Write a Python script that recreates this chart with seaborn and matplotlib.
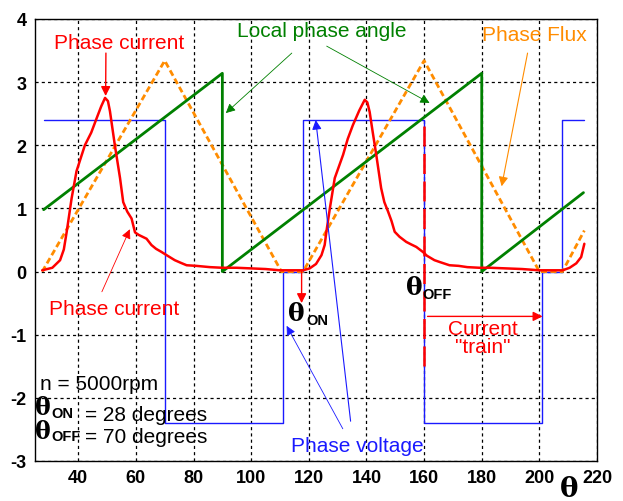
import matplotlib
matplotlib.use("Agg")
import matplotlib.pyplot as plt
import seaborn as sns

# Phase voltage (square wave)
theta_v = [28, 70, 70, 111, 111, 118, 118, 160, 160, 201, 201, 208, 208, 215.5]
volt = [2.4, 2.4, -2.4, -2.4, 0, 0, 2.4, 2.4, -2.4, -2.4, 0, 0, 2.4, 2.4]

# Local phase angle (sawtooth)
theta_a = [28, 90, 90, 180, 180, 215.3]
angle = [0.98, 3.14, 0.0, 3.14, 0.0, 1.25]

# Phase flux (triangle)
theta_f = [27.5, 70, 110.5, 118, 160, 200, 208, 215.6]
flux = [0.0, 3.34, 0.0, 0.0, 3.34, 0.0, 0.0, 0.65]

# Phase current
theta_i = [27.5, 31, 33.7, 35, 36, 37.7, 39.4, 42.3, 44.5, 46.4, 48, 49.3, 50.3, 51,
           52.7, 54.5, 55.6, 57, 58.5, 59.7, 61, 63.7, 65.4, 67, 68.9, 71, 73.5, 75.5,
           77.6, 81, 85.7, 90, 94.9, 100, 105, 109.9, 115, 118, 120.3, 122.5, 124.4,
           125.5, 126.1, 127.3, 129, 131.9, 133.5, 135.3, 137.5, 139.4, 140.3, 141.1,
           142.2, 143.4, 145.1, 146.2, 147.5, 148.7, 149.8, 151.5, 153.8, 155.5, 157.3,
           159.6, 161, 163.6, 165.5, 168.8, 172, 175, 179.2, 183, 188.5, 194, 200, 204,
           208.1, 210.5, 212.8, 214.5, 215.6]
current = [0.02, 0.06, 0.18, 0.35, 0.63, 1.16, 1.59, 2.0, 2.2, 2.43, 2.62, 2.75, 2.7, 2.54,
           2.0, 1.48, 1.1, 0.95, 0.84, 0.62, 0.58, 0.52, 0.42, 0.36, 0.31, 0.25, 0.18, 0.14,
           0.10, 0.09, 0.07, 0.06, 0.06, 0.05, 0.04, 0.02, 0.02, 0.02, 0.05, 0.12, 0.26,
           0.42, 0.63, 1.0, 1.48, 1.85, 2.1, 2.32, 2.55, 2.72, 2.68, 2.53,
           2.2, 1.85, 1.32, 1.1, 0.95, 0.8, 0.63, 0.55, 0.47, 0.43, 0.39,
           0.31, 0.25, 0.18, 0.15, 0.10, 0.09, 0.07, 0.06, 0.06, 0.05, 0.04, 0.02, 0.02,
           0.02, 0.06, 0.13, 0.23, 0.44]

# theta_off marker line
theta_off_line = [160, 160]
off_line_y = [2.3, -1.55]

xticks = [40, 60, 80, 100, 120, 140, 160, 180, 200, 220]
yticks = [-3, -2, -1, 0, 1, 2, 3, 4]

RED = "#ff0000"
GREEN = "#008000"
ORANGE = "#ff8c00"
BLUE = "#1a1aff"

sns.set_theme(style="white")
plt.rcParams['font.family'] = ['Liberation Sans', 'DejaVu Sans']
plt.rcParams['text.color'] = 'black'
plt.rcParams['xtick.color'] = 'black'
plt.rcParams['ytick.color'] = 'black'
plt.rcParams['axes.unicode_minus'] = False

fig = plt.figure(figsize=(6.23, 5.02), dpi=100)
ax = fig.add_axes([0.0562, 0.0797, 0.9021, 0.8805])

sns.lineplot(x=theta_v, y=volt, sort=False, estimator=None, color=BLUE, lw=1.0, ax=ax)
sns.lineplot(x=theta_f, y=flux, sort=False, estimator=None, color=ORANGE, lw=2.0,
             linestyle=(0, (2.2, 1.2)), ax=ax)
sns.lineplot(x=theta_a, y=angle, sort=False, estimator=None, color=GREEN, lw=2.0, ax=ax)
sns.lineplot(x=theta_i, y=current, sort=False, estimator=None, color=RED, lw=1.8, ax=ax)
ax.plot(theta_off_line, off_line_y, color=RED, lw=1.8, linestyle=(0, (8, 3)))

ax.set_xlim(25, 220)
ax.set_ylim(-3, 4)
ax.set_xticks(xticks)
ax.set_yticks(yticks)
ax.grid(True, color="black", linestyle=(0, (2.5, 2.5)), lw=0.9)
ax.tick_params(length=0, labelsize=13, pad=6, colors="black")
for lab in ax.get_xticklabels() + ax.get_yticklabels():
    lab.set_fontweight("bold")
for s in ax.spines.values():
    s.set_color("black")
    s.set_linewidth(1.0)
ax.set_xlabel("")
ax.set_ylabel("")

fs = 15
arr = lambda c, lw=0.8: dict(arrowstyle="-|>", color=c, lw=lw, mutation_scale=14, shrinkA=0, shrinkB=0)

# Phase current labels
ax.text(54.2, 3.62, "Phase current", color=RED, fontsize=fs, ha="center", va="center")
ax.annotate("", xy=(49.5, 2.78), xytext=(49.6, 3.46), arrowprops=arr(RED, 1.0))
ax.text(52.4, -0.59, "Phase current", color=RED, fontsize=fs, ha="center", va="center")
ax.annotate("", xy=(57.9, 0.67), xytext=(48.2, -0.32), arrowprops=arr(RED, 0.6))

# Local phase angle
ax.text(124.5, 3.81, "Local phase angle", color=GREEN, fontsize=fs, ha="center", va="center")
ax.annotate("", xy=(91.2, 2.51), xytext=(114.1, 3.46), arrowprops=arr(GREEN, 0.6))
ax.annotate("", xy=(161.9, 2.67), xytext=(126.2, 3.57), arrowprops=arr(GREEN, 0.6))

# Phase flux
ax.text(198.3, 3.76, "Phase Flux", color=ORANGE, fontsize=fs, ha="center", va="center")
ax.annotate("", xy=(186.9, 1.35), xytext=(195.9, 3.46), arrowprops=arr(ORANGE, 0.8))

# Phase voltage
ax.text(137, -2.76, "Phase voltage", color=BLUE, fontsize=fs, ha="center", va="center")
ax.annotate("", xy=(112.3, -0.86), xytext=(131.8, -2.49), arrowprops=arr(BLUE, 0.6))
ax.annotate("", xy=(122.4, 2.4), xytext=(134.5, -2.37), arrowprops=arr(BLUE, 0.8))

# theta_on / theta_off markers
ax.annotate("", xy=(117.5, -0.5), xytext=(117.5, 0.0), arrowprops=arr(RED, 1.0))
serif = ['DejaVu Serif']
ax.text(115.5, -0.66, "θ", fontsize=18, family=serif, fontweight="bold", ha="center", va="center")
ax.text(119.2, -0.76, "ON", fontsize=10.5, fontweight="bold", ha="left", va="center")
ax.text(156.5, -0.24, "θ", fontsize=18, family=serif, fontweight="bold", ha="center", va="center")
ax.text(159.4, -0.35, "OFF", fontsize=10.5, fontweight="bold", ha="left", va="center")

# current train
ax.annotate("", xy=(201.1, -0.71), xytext=(161.2, -0.71), arrowprops=arr(RED, 1.0))
ax.text(180.3, -1.05, "Current\n\"train\"", color=RED, fontsize=fs, ha="center", va="center",
        linespacing=0.95)

# operating point text
ax.text(26.7, -1.78, "n = 5000rpm", fontsize=fs, ha="left", va="center")
ax.text(27.9, -2.15, "θ", fontsize=17, family=serif, fontweight="bold", ha="center", va="center")
ax.text(30.8, -2.24, "ON", fontsize=10.5, fontweight="bold", ha="left", va="center")
ax.text(42.3, -2.27, "= 28 degrees", fontsize=fs, ha="left", va="center")
ax.text(27.9, -2.52, "θ", fontsize=17, family=serif, fontweight="bold", ha="center", va="center")
ax.text(30.8, -2.61, "OFF", fontsize=10.5, fontweight="bold", ha="left", va="center")
ax.text(42.3, -2.62, "= 70 degrees", fontsize=fs, ha="left", va="center")

# x axis symbol
ax.text(210.4, -3.44, "θ", fontsize=20, family=serif, fontweight="bold", ha="center", va="center",
        clip_on=False)

plt.savefig("out.png", dpi=100)
